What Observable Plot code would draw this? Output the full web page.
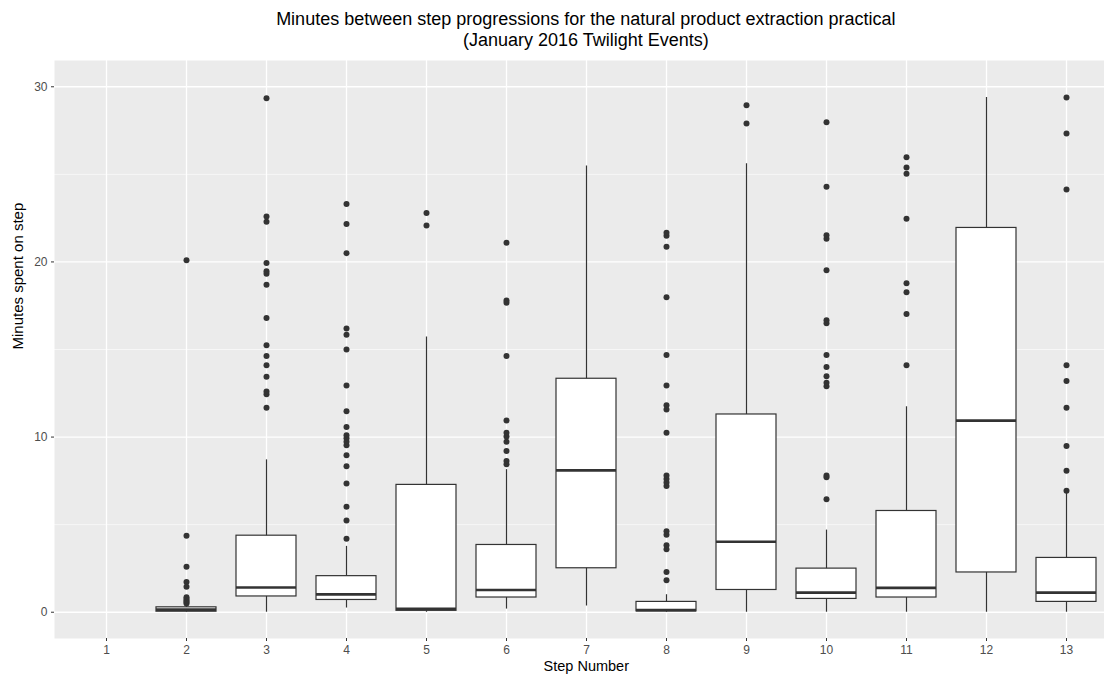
<!DOCTYPE html>
<html>
<head>
<meta charset="utf-8">
<script src="https://cdn.jsdelivr.net/npm/d3@7"></script>
<script src="https://cdn.jsdelivr.net/npm/@observablehq/plot@0.6"></script>
<style>
  html, body { margin: 0; padding: 0; background: #fff; overflow: hidden; width: 1104px; height: 676px; }
  #wrap { width: 1120px; font-family: "Liberation Sans", Arial, Helvetica, sans-serif; }
  #title { box-sizing: border-box; height: 48px; padding-top: 9.3px; margin-left: 54px; width: 1063.6px;
           text-align: center; font-size: 18px; line-height: 20.2px; color: #000; }
  svg { display: block; }
</style>
</head>
<body>
<div id="wrap">
  <div id="title">Minutes between step progressions for the natural product extraction practical<br>(January 2016 Twilight Events)</div>
  <div id="chart"></div>
</div>
<script>
// Categories (step numbers)
const steps = ["1","2","3","4","5","6","7","8","9","10","11","12","13"];

// Box summary statistics per step (step 1 has no data)
const boxSteps = ["2","3","4","5","6","7","8","9","10","11","12","13"];
const lowerWhisker = [0,    0,    0.24, 0,     0.18, 0.35,  0,    0,     0,    0,     0,     0];
const q1           = [0.03, 0.9,  0.7,  0.08,  0.84, 2.51,  0.05, 1.27,  0.76, 0.84,  2.27,  0.59];
const median       = [0.15, 1.41, 1.02, 0.2,   1.27, 8.1,   0.12, 4.02,  1.12, 1.39,  10.94, 1.12];
const q3           = [0.28, 4.37, 2.06, 7.27,  3.84, 13.33, 0.59, 11.29, 2.49, 5.78,  21.94, 3.1];
const upperWhisker = [0.42, 8.7,  3.76, 15.71, 8.14, 25.47, 1.0,  25.6,  4.69, 11.73, 29.39, 6.8];

// Outliers per step
const outliers2  = [0.5, 0.58, 0.66, 0.75, 0.85, 1.45, 1.73, 2.59, 4.37, 20.1];
const outliers3  = [11.67, 12.45, 12.6, 13.45, 14.1, 14.63, 15.24, 16.8, 18.7, 19.33, 19.47, 19.94, 22.3, 22.6, 29.35];
const outliers4  = [4.2, 5.24, 6.02, 7.35, 8.33, 8.96, 9.53, 9.73, 9.94, 10.1, 10.57, 11.47, 12.94, 15.0, 15.84, 16.2, 20.5, 22.16, 23.3];
const outliers5  = [22.08, 22.8];
const outliers6  = [8.45, 8.63, 9.2, 9.73, 10.04, 10.24, 10.94, 14.63, 17.67, 17.8, 21.1];
const outliers7  = [];
const outliers8  = [1.82, 2.29, 3.6, 3.82, 4.43, 4.63, 7.2, 7.4, 7.6, 7.8, 10.24, 11.57, 11.82, 12.94, 14.69, 17.98, 20.86, 21.5, 21.67];
const outliers9  = [27.9, 28.94];
const outliers10 = [6.45, 7.7, 7.8, 12.9, 13.1, 13.47, 14.0, 14.69, 16.5, 16.67, 19.53, 21.33, 21.53, 24.29, 27.98];
const outliers11 = [14.1, 17.02, 18.27, 18.78, 22.47, 25.04, 25.39, 25.98];
const outliers12 = [];
const outliers13 = [6.94, 8.08, 9.49, 11.67, 13.2, 14.1, 24.14, 27.33, 29.39];

const yMajor = [0, 10, 20, 30];
const yMinor = [5, 15, 25];

const outlierLists = [outliers2, outliers3, outliers4, outliers5, outliers6, outliers7,
                      outliers8, outliers9, outliers10, outliers11, outliers12, outliers13];

const boxes = boxSteps.map((s, i) => ({
  step: s, lo: lowerWhisker[i], q1: q1[i], med: median[i], q3: q3[i], hi: upperWhisker[i]
}));
const points = boxSteps.flatMap((s, i) => outlierLists[i].map(v => ({step: s, value: v})));

const dark = "#333333";
const font = '"Liberation Sans", Arial, Helvetica, sans-serif';

const chart = Plot.plot({
  width: 1120,
  height: 628,
  marginLeft: 54,
  marginRight: 2.4,
  marginTop: 12,
  marginBottom: 38,
  style: {fontFamily: font, background: "transparent"},
  x: {type: "band", domain: steps, paddingInner: 0.25, paddingOuter: 0.225, align: 0.5},
  y: {domain: [-1.5, 31.5]},
  marks: [
    Plot.frame({fill: "#EBEBEB", stroke: null}),
    Plot.gridY(yMinor, {stroke: "#ffffff", strokeOpacity: 1, strokeWidth: 0.6}),
    Plot.gridY(yMajor, {stroke: "#ffffff", strokeOpacity: 1, strokeWidth: 1.3}),
    Plot.gridX(steps, {stroke: "#ffffff", strokeOpacity: 1, strokeWidth: 1.3}),
    Plot.axisY(yMajor, {tickSize: 3, tickPadding: 4, stroke: dark, color: "#4D4D4D", fontSize: 12, label: null}),
    Plot.axisX(steps, {tickSize: 3, tickPadding: 4, stroke: dark, color: "#4D4D4D", fontSize: 12, label: null}),
    Plot.ruleX(boxes, {x: "step", y1: "lo", y2: "hi", stroke: dark, strokeWidth: 1.2}),
    Plot.barY(boxes, {x: "step", y1: "q1", y2: "q3", fill: "#ffffff", stroke: dark, strokeWidth: 1.2}),
    Plot.tickY(boxes, {x: "step", y: "med", stroke: dark, strokeWidth: 2.6}),
    Plot.dot(points, {x: "step", y: "value", r: 3, fill: dark, stroke: null}),
    Plot.text(["Minutes spent on step"], {frameAnchor: "left", dx: -36, rotate: -90, fontSize: 15, fill: "#000"}),
    Plot.text(["Step Number"], {frameAnchor: "bottom", dy: 32, fontSize: 14.5, fill: "#000"})
  ]
});
document.getElementById("chart").appendChild(chart);
</script>
</body>
</html>
